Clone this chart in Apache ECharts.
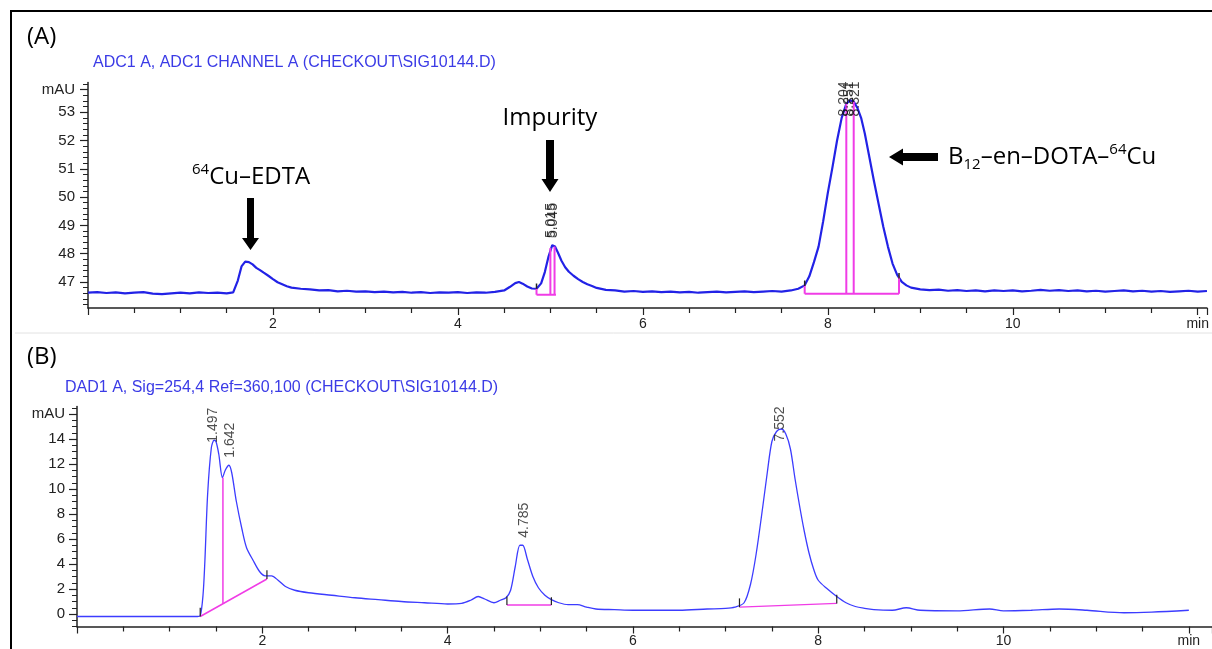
<!DOCTYPE html>
<html><head><meta charset="utf-8">
<script src="https://cdn.jsdelivr.net/npm/echarts@6/dist/echarts.min.js"></script>
<style>html,body{margin:0;padding:0;background:#fff}#c{width:1212px;height:649px}</style>
</head><body><div id="c"></div><script>
// ---------- Panel A: ADC1 (radio) trace ----------
const timeA = [0.00,0.10,0.20,0.30,0.40,0.50,0.60,0.70,0.80,0.90,1.00,1.10,1.20,1.30,1.40,1.50,1.57,1.62,1.66,1.70,1.74,1.78,1.82,1.86,1.90,1.95,2.00,2.05,2.10,2.15,2.20,2.30,2.40,2.50,2.60,2.70,2.80,2.90,3.00,3.10,3.20,3.30,3.40,3.50,3.60,3.70,3.80,3.90,4.00,4.10,4.20,4.30,4.40,4.50,4.56,4.62,4.66,4.70,4.75,4.80,4.85,4.90,4.94,4.98,5.02,5.05,5.08,5.12,5.16,5.20,5.25,5.30,5.35,5.40,5.45,5.50,5.60,5.70,5.80,5.90,6.00,6.10,6.20,6.30,6.40,6.50,6.60,6.70,6.80,6.90,7.00,7.10,7.20,7.30,7.40,7.50,7.60,7.68,7.75,7.80,7.85,7.90,7.95,8.00,8.05,8.10,8.15,8.20,8.24,8.28,8.32,8.36,8.40,8.45,8.50,8.55,8.60,8.65,8.70,8.75,8.80,8.85,8.90,9.00,9.10,9.20,9.30,9.40,9.50,9.60,9.70,9.80,9.90,10.00,10.10,10.20,10.30,10.40,10.50,10.60,10.70,10.80,10.90,11.00,11.10,11.20,11.30,11.40,11.50,11.60,11.70,11.80,11.90,12.00,12.10];
const signalA = [46.62,46.64,46.61,46.63,46.60,46.62,46.64,46.59,46.57,46.60,46.62,46.60,46.63,46.61,46.62,46.60,46.63,47.05,47.55,47.72,47.70,47.62,47.50,47.42,47.33,47.22,47.10,46.99,46.92,46.85,46.80,46.76,46.74,46.70,46.71,46.67,46.69,46.66,46.67,46.64,46.66,46.63,46.65,46.62,46.64,46.61,46.63,46.62,46.64,46.61,46.63,46.62,46.65,46.70,46.82,46.96,47.00,46.94,46.84,46.77,46.76,46.95,47.35,47.90,48.30,48.25,48.05,47.75,47.52,47.36,47.22,47.10,47.00,46.92,46.86,46.79,46.72,46.70,46.66,46.68,46.65,46.67,46.64,46.66,46.63,46.65,46.62,46.64,46.66,46.63,46.65,46.67,46.64,46.66,46.68,46.66,46.70,46.76,46.88,47.20,47.70,48.25,49.15,50.15,51.05,52.00,52.80,53.30,53.42,53.38,53.15,52.80,52.25,51.40,50.55,49.75,48.95,48.25,47.65,47.25,47.00,46.88,46.80,46.74,46.71,46.73,46.69,46.71,46.68,46.70,46.67,46.70,46.68,46.70,46.67,46.69,46.72,46.69,46.71,46.68,46.70,46.67,46.69,46.66,46.68,46.70,46.67,46.69,46.66,46.68,46.65,46.67,46.69,46.66,46.68];

// ---------- Panel B: DAD1 (UV 254 nm) trace ----------
const timeB = [0.00,1.30,1.33,1.36,1.38,1.41,1.45,1.48,1.50,1.53,1.57,1.60,1.64,1.67,1.72,1.78,1.83,1.90,1.97,2.03,2.10,2.17,2.25,2.35,2.50,2.75,3.00,3.25,3.50,3.75,4.00,4.15,4.25,4.33,4.40,4.50,4.57,4.63,4.68,4.73,4.78,4.81,4.86,4.92,4.98,5.05,5.12,5.20,5.30,5.40,5.50,5.60,5.80,6.00,6.50,6.80,7.00,7.10,7.20,7.27,7.33,7.40,7.45,7.50,7.55,7.60,7.65,7.70,7.75,7.80,7.85,7.90,7.95,8.00,8.10,8.20,8.30,8.40,8.50,8.60,8.80,8.95,9.10,9.50,9.85,10.00,10.30,10.60,10.90,11.30,11.60,12.00];
const signalB = [-0.2,-0.2,-0.15,1.5,4.2,9.6,13.3,13.9,13.8,12.8,10.9,11.5,11.9,11.3,9.0,6.8,5.3,4.3,3.4,3.05,3.05,2.7,2.2,1.9,1.7,1.5,1.3,1.15,1.0,0.9,0.8,0.85,1.1,1.4,1.2,0.9,1.1,1.3,1.9,3.8,5.5,5.5,4.4,3.0,2.1,1.5,1.15,0.9,0.75,0.75,0.55,0.4,0.35,0.3,0.3,0.4,0.45,0.55,0.9,2.4,4.8,8.5,11.3,13.8,14.6,14.8,14.4,13.2,10.8,8.6,6.6,4.9,3.6,2.7,2.0,1.4,0.9,0.6,0.45,0.35,0.3,0.5,0.3,0.25,0.4,0.25,0.3,0.4,0.3,0.1,0.15,0.3];

// ---------- Integration marks (magenta) ----------
const integrationA = [
  [[4.85,46.55],[5.06,46.55]], [[4.85,46.55],[4.85,46.76]], [[5.0,46.55],[5.0,48.2]], [[5.045,46.55],[5.045,48.25]],
  [[7.75,46.58],[8.77,46.58]], [[7.75,46.58],[7.75,46.88]], [[8.77,46.58],[8.77,47.2]], [[8.2,46.58],[8.2,53.3]], [[8.28,46.58],[8.28,53.38]]
];
const integrationB = [
  [[1.33,-0.2],[2.05,2.8]], [[1.575,0.83],[1.575,10.9]],
  [[4.64,0.72],[5.12,0.72]],
  [[7.15,0.55],[8.2,0.85]]
];
const baseTicksA = [[4.85,46.76,46.95],[7.75,46.86,47.05],[8.77,47.12,47.32]];
const baseTicksB = [[1.33,-0.2,0.5],[2.05,2.8,3.5],[4.64,0.72,1.4],[5.12,0.72,1.35],[7.15,0.55,1.25],[8.2,0.85,1.55]];

// ---------- Retention-time labels ----------
const rtTimeA = [5.005, 5.03, 8.18, 8.235, 8.3];
const rtTextA = ['5.015', '5.045', '8.204', '8.251', '8.321'];
const rtBaseA = [48.55, 48.55, 52.85, 52.85, 52.85];
const rtTimeB = [1.47, 1.65, 4.83, 7.59];
const rtTextB = ['1.497', '1.642', '4.785', '7.552'];
const rtBaseB = [13.7, 12.5, 6.1, 13.8];

// ---------- Axis ticks ----------
const yLabelsA = [47, 48, 49, 50, 51, 52, 53, 53.8];
const yLabelsB = [0, 2, 4, 6, 8, 10, 12, 14, 16];
const unitTopA = 53.8, unitTopB = 16;

function range(a, b, step) { const r = []; for (let v = a; v <= b + 1e-9; v += step) r.push(+v.toFixed(3)); return r; }
const yMinorA = range(46.2, 54.0, 0.2);
const yMinorB = range(-1, 16.5, 0.5);

const chart = echarts.init(document.getElementById('c'), null, { renderer: 'canvas' });
const AX = '#222';
const MAG = '#f03ce6';
const sans = 'Liberation Sans, Arial, sans-serif';
const cal = 'Open Sans, Lato, sans-serif';

function xAxis(gi, max, margin) {
  return {
    gridIndex: gi, type: 'value', min: 0, max: max, interval: 2,
    axisLine: { show: true, onZero: false, lineStyle: { color: AX, width: 1.5 } },
    axisTick: { show: true, length: 7, lineStyle: { color: AX, width: 1.2 } },
    minorTick: { show: true, splitNumber: 4, length: 5, lineStyle: { color: AX, width: 1.2 } },
    splitLine: { show: false }, minorSplitLine: { show: false },
    axisLabel: { fontSize: 14, color: AX, fontFamily: sans, margin: margin,
      formatter: v => v === 0 ? '' : (Math.abs(v - 12) < 1e-6 ? 'min' : String(v)) }
  };
}
function yMajor(gi, min, max, labels, unitVal, margin) {
  return {
    gridIndex: gi, type: 'value', position: 'left', min: min, max: max,
    axisLine: { show: true, onZero: false, lineStyle: { color: AX, width: 1.5 } },
    axisTick: { show: true, length: 8, customValues: labels, lineStyle: { color: AX, width: 1.2 } },
    splitLine: { show: false },
    axisLabel: { customValues: labels, fontSize: 15, color: AX, fontFamily: sans, margin: margin,
      formatter: v => Math.abs(v - unitVal) < 1e-6 ? 'mAU' : String(v) }
  };
}
function yMinor(gi, min, max, ticks) {
  return {
    gridIndex: gi, type: 'value', position: 'left', min: min, max: max,
    axisLine: { show: false },
    axisTick: { show: true, length: 5, customValues: ticks, lineStyle: { color: AX, width: 1 } },
    splitLine: { show: false }, axisLabel: { show: false }
  };
}

const series = [];
series.push({ type: 'line', xAxisIndex: 0, yAxisIndex: 0, data: timeA.map((t, i) => [t, signalA[i]]),
  showSymbol: false, symbol: 'none', lineStyle: { color: '#2222e6', width: 2.2 }, z: 3 });
series.push({ type: 'line', xAxisIndex: 1, yAxisIndex: 2, data: timeB.map((t, i) => [t, signalB[i]]),
  showSymbol: false, symbol: 'none', smooth: 0.3, lineStyle: { color: '#3c3cff', width: 1.3 }, z: 3 });
integrationA.forEach(seg => series.push({ type: 'line', xAxisIndex: 0, yAxisIndex: 0, data: seg, symbol: 'none',
  lineStyle: { color: MAG, width: 2 }, z: 4 }));
integrationB.forEach(seg => series.push({ type: 'line', xAxisIndex: 1, yAxisIndex: 2, data: seg, symbol: 'none',
  lineStyle: { color: MAG, width: 1.5 }, z: 4 }));
baseTicksA.forEach(t => series.push({ type: 'line', xAxisIndex: 0, yAxisIndex: 0, data: [[t[0], t[1]], [t[0], t[2]]], symbol: 'none',
  lineStyle: { color: '#222', width: 1.5 }, z: 5 }));
baseTicksB.forEach(t => series.push({ type: 'line', xAxisIndex: 1, yAxisIndex: 2, data: [[t[0], t[1]], [t[0], t[2]]], symbol: 'none',
  lineStyle: { color: '#222', width: 1.2 }, z: 5 }));
function rtSeries(xi, yi, times, texts, bases, color) {
  return { type: 'scatter', xAxisIndex: xi, yAxisIndex: yi, symbolSize: 2, itemStyle: { color: 'rgba(0,0,0,0)' }, z: 6,
    silent: true,
    data: times.map((t, i) => ({ value: [t, bases[i]], name: texts[i] })),
    label: { show: true, formatter: p => p.name, position: 'inside', rotate: 90, align: 'left', verticalAlign: 'middle',
      fontSize: 14, fontFamily: sans, color: color } };
}
series.push(rtSeries(0, 0, rtTimeA, rtTextA, rtBaseA, '#111'));
series.push(rtSeries(1, 2, rtTimeB, rtTextB, rtBaseB, '#222'));

function downArrow(cx, y0, y1, sw, hw, hl) {
  return { type: 'polygon', shape: { points: [[cx - sw, y0], [cx + sw, y0], [cx + sw, y1 - hl], [cx + hw, y1 - hl], [cx, y1], [cx - hw, y1 - hl], [cx - sw, y1 - hl]] },
    style: { fill: '#000' }, z: 10 };
}
function leftArrow(x0, x1, cy, sw, hw, hl) {
  return { type: 'polygon', shape: { points: [[x1, cy - sw], [x1, cy + sw], [x0 + hl, cy + sw], [x0 + hl, cy + hw], [x0, cy], [x0 + hl, cy - hw], [x0 + hl, cy - sw]] },
    style: { fill: '#000' }, z: 10 };
}
const rich = {
  n: { fontSize: 24, fontFamily: cal, lineHeight: 30, fill: '#000' },
  sup: { fontSize: 15, fontFamily: cal, lineHeight: 16, verticalAlign: 'top', fill: '#000' },
  sub: { fontSize: 15, fontFamily: cal, lineHeight: 16, verticalAlign: 'bottom', fill: '#000' }
};

chart.setOption({
  animation: false,
  backgroundColor: '#fff',
  grid: [
    { left: 88, top: 82.5, width: 1124, height: 225.5, containLabel: false },
    { left: 77, top: 406.5, width: 1136, height: 220, containLabel: false }
  ],
  xAxis: [xAxis(0, 12.1, 9), xAxis(1, 12.25, 8)],
  yAxis: [
    yMajor(0, 46.08, 54.05, yLabelsA, unitTopA, 13), yMinor(0, 46.08, 54.05, yMinorA),
    yMajor(1, -1, 16.6, yLabelsB, unitTopB, 12), yMinor(1, -1, 16.6, yMinorB)
  ],
  series: series,
  graphic: [
    { type: 'rect', shape: { x: 11, y: 11, width: 1300, height: 700 }, style: { fill: 'none', stroke: '#000', lineWidth: 2 }, z: 20 },
    { type: 'line', shape: { x1: 15, y1: 333, x2: 1212, y2: 333 }, style: { stroke: '#e2e2e2', lineWidth: 1 }, z: 1 },
    { type: 'text', x: 27, y: 37, style: { text: '(A)', fontSize: 24, fontFamily: cal, fill: '#000', textVerticalAlign: 'middle' }, z: 10 },
    { type: 'text', x: 27, y: 357, style: { text: '(B)', fontSize: 24, fontFamily: cal, fill: '#000', textVerticalAlign: 'middle' }, z: 10 },
    { type: 'text', x: 93, y: 63, style: { text: 'ADC1 A, ADC1 CHANNEL A (CHECKOUT\\SIG10144.D)', fontSize: 16, fontFamily: sans, fill: '#3b3be6', textVerticalAlign: 'middle' }, z: 10 },
    { type: 'text', x: 65, y: 388, style: { text: 'DAD1 A, Sig=254,4 Ref=360,100 (CHECKOUT\\SIG10144.D)', fontSize: 16, fontFamily: sans, fill: '#3b3be6', textVerticalAlign: 'middle' }, z: 10 },
    { type: 'text', x: 550, y: 118, style: { text: 'Impurity', fontSize: 24, fontFamily: cal, fill: '#000', textAlign: 'center', textVerticalAlign: 'middle' }, z: 10 },
    { type: 'text', x: 192, y: 177, style: { text: '{sup|64}{n|Cu–EDTA}', rich: rich, textVerticalAlign: 'middle' }, z: 10 },
    { type: 'text', x: 948, y: 157, style: { text: '{n|B}{sub|12}{n|–en–DOTA–}{sup|64}{n|Cu}', rich: rich, textVerticalAlign: 'middle' }, z: 10 },
    downArrow(250.5, 198, 250, 3.5, 8.5, 12),
    downArrow(550, 140, 192, 4, 8.5, 13),
    leftArrow(889, 938, 157, 4, 8.5, 14)
  ]
});
</script></body></html>
